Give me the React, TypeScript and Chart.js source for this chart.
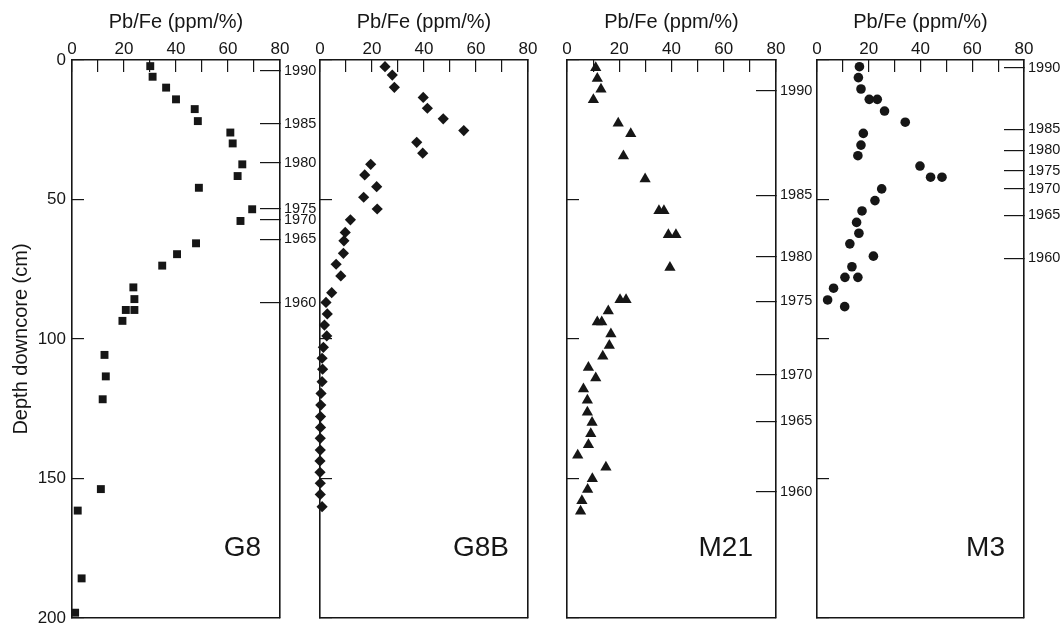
import React, { useEffect, useRef } from "react";
import { Chart, registerables } from "chart.js";

Chart.register(...registerables);

// ---------- data ----------
const X_TITLE = "Pb/Fe (ppm/%)";
const Y_TITLE = "Depth downcore (cm)";
const DATE_YEARS = ["1990", "1985", "1980", "1975", "1970", "1965", "1960"];

const g8Depth = [2.2, 6.0, 9.9, 14.1, 17.6, 21.9, 26.0, 29.9, 37.4, 41.6, 45.8, 53.5, 57.7, 65.7, 69.6, 73.7, 81.5, 85.7, 89.6, 89.6, 93.5, 105.7, 113.4, 121.6, 153.8, 161.5, 185.8, 198.1];
const g8Value = [30.1, 31.0, 36.2, 40.0, 47.2, 48.4, 60.9, 61.8, 65.5, 63.7, 48.8, 69.3, 64.8, 47.7, 40.4, 34.7, 23.6, 24.0, 20.7, 24.0, 19.4, 12.5, 13.0, 11.8, 11.1, 2.2, 3.7, 1.2];
const g8DateDepth = [3.9, 22.9, 36.9, 53.4, 57.3, 64.2, 87.1];

const g8bDepth = [2.4, 5.4, 9.8, 13.4, 17.3, 21.1, 25.3, 29.5, 33.4, 37.4, 41.2, 45.4, 49.2, 53.4, 57.3, 61.8, 64.8, 69.3, 73.2, 77.4, 83.4, 86.9, 91.0, 95.0, 98.9, 103.0, 106.9, 110.8, 115.3, 119.5, 123.7, 127.8, 131.7, 135.6, 139.8, 143.7, 147.8, 151.7, 155.7, 160.1];
const g8bValue = [25.0, 27.8, 28.6, 39.7, 41.3, 47.4, 55.3, 37.2, 39.5, 19.5, 17.2, 21.8, 16.8, 22.0, 11.7, 9.7, 9.2, 9.0, 6.2, 8.0, 4.5, 2.3, 2.8, 1.7, 2.6, 1.3, 0.8, 1.0, 0.8, 0.4, 0.3, 0.2, 0.2, 0.1, 0.1, 0.0, 0.0, 0.1, 0.1, 0.8];

const m21Depth = [2.8, 6.6, 10.5, 14.3, 22.7, 26.5, 34.4, 42.7, 54.1, 54.1, 62.7, 62.7, 74.4, 86.0, 86.0, 90.0, 94.0, 94.0, 98.3, 102.4, 106.3, 110.3, 114.1, 118.0, 122.1, 126.4, 130.0, 134.1, 138.0, 141.8, 146.1, 150.2, 154.1, 158.1, 161.9];
const m21Value = [11.0, 11.6, 13.0, 10.1, 19.6, 24.4, 21.6, 29.9, 35.2, 37.1, 38.8, 41.7, 39.4, 20.3, 22.6, 15.8, 11.6, 13.3, 16.8, 16.2, 13.7, 8.2, 11.0, 6.3, 7.8, 7.8, 9.6, 9.1, 8.2, 4.1, 14.9, 9.7, 7.9, 5.7, 5.2];
const m21DateDepth = [11.0, 48.6, 70.7, 86.6, 112.9, 129.6, 154.9];

const m3Depth = [2.4, 6.3, 10.4, 14.1, 14.1, 18.3, 22.3, 26.3, 30.5, 34.3, 38.0, 42.0, 42.0, 46.2, 50.4, 54.1, 58.2, 62.1, 65.9, 70.3, 74.1, 77.9, 77.9, 81.8, 86.0, 88.4];
const m3Value = [16.4, 16.0, 17.0, 20.2, 23.3, 26.1, 34.1, 17.9, 17.0, 15.8, 39.8, 43.9, 48.3, 25.0, 22.4, 17.4, 15.3, 16.2, 12.7, 21.8, 13.5, 10.8, 15.8, 6.4, 4.1, 10.7];
const m3DateDepth = [2.8, 24.8, 32.3, 39.7, 46.2, 55.6, 71.1];

// ---------- layout / style ----------
const INK = "#161616";
const FONT = "'Liberation Sans', Arial, Helvetica, sans-serif";
const H = 624;
const PLOT_TOP = 60;
const PLOT_BOTTOM = 618;

type Panel = {
  name: string;
  values: number[];
  depths: number[];
  dates: number[] | null;
  style: string;
  radius: number;
  canvasLeft: number;
  canvasWidth: number;
  plotLeft: number;
  plotRight: number;
  showY: boolean;
  inset: number;
};

const PANELS: Panel[] = [
  { name: "G8", values: g8Value, depths: g8Depth, dates: g8DateDepth, style: "rect", radius: 5.6, canvasLeft: 0, canvasWidth: 324, plotLeft: 72, plotRight: 280, showY: true, inset: 19 },
  { name: "G8B", values: g8bValue, depths: g8bDepth, dates: null, style: "rectRot", radius: 5.6, canvasLeft: 314, canvasWidth: 226, plotLeft: 320, plotRight: 528, showY: false, inset: 19 },
  { name: "M21", values: m21Value, depths: m21Depth, dates: m21DateDepth, style: "triangle", radius: 6.5, canvasLeft: 545, canvasWidth: 273, plotLeft: 567, plotRight: 776, showY: false, inset: 23 },
  { name: "M3", values: m3Value, depths: m3Depth, dates: m3DateDepth, style: "circle", radius: 4.8, canvasLeft: 810, canvasWidth: 250, plotLeft: 817, plotRight: 1024, showY: false, inset: 19 },
];

const panelLabelPlugin = {
  id: "panelLabel",
  afterDraw(chart: any, _args: any, opts: any) {
    const { ctx, chartArea } = chart;
    ctx.save();
    ctx.font = `28px ${FONT}`;
    ctx.fillStyle = INK;
    ctx.textAlign = "right";
    ctx.textBaseline = "alphabetic";
    ctx.fillText(opts.text, chartArea.right - opts.inset, chartArea.bottom - 62);
    ctx.restore();
  },
};

function fix(prop: "width" | "height", val: number) {
  return (s: any) => {
    s[prop] = val;
    s.paddingLeft = 0;
    s.paddingRight = 0;
    s.paddingTop = 0;
    s.paddingBottom = 0;
  };
}

function makeChart(canvas: HTMLCanvasElement, p: Panel) {
  const leftW = p.plotLeft - p.canvasLeft;
  const rightW = p.canvasLeft + p.canvasWidth - p.plotRight;
  const border = { color: INK, width: 1.6 };
  const gridBase = { drawOnChartArea: false, color: INK, lineWidth: 1.2 };
  return new Chart(canvas, {
    type: "scatter",
    data: {
      datasets: [
        {
          data: p.depths.map((d, i) => ({ x: p.values[i], y: d })),
          pointStyle: p.style as any,
          pointRadius: p.radius,
          pointBackgroundColor: INK,
          pointBorderColor: INK,
          pointBorderWidth: 0,
          clip: false as any,
          xAxisID: "x",
          yAxisID: "y",
        },
      ],
    },
    options: {
      animation: false,
      responsive: false,
      events: [],
      layout: { padding: 0 },
      plugins: {
        legend: { display: false },
        tooltip: { enabled: false },
        panelLabel: { text: p.name, inset: p.inset },
      } as any,
      scales: {
        x: {
          type: "linear",
          position: "top",
          min: 0,
          max: 80,
          afterFit: fix("height", PLOT_TOP),
          ticks: {
            stepSize: 10,
            autoSkip: false,
            maxRotation: 0,
            padding: 12,
            color: INK,
            font: { family: FONT, size: 17 },
            callback: (v: any) => (Number(v) % 20 === 0 ? String(v) : ""),
          },
          grid: { ...gridBase, drawTicks: true, tickLength: -12 },
          border,
          title: {
            display: true,
            text: X_TITLE,
            color: INK,
            font: { family: FONT, size: 20 },
            padding: { top: 10, bottom: 0 },
          },
        },
        xb: {
          type: "linear",
          position: "bottom",
          min: 0,
          max: 80,
          afterFit: fix("height", H - PLOT_BOTTOM),
          ticks: { display: false },
          grid: { ...gridBase, drawTicks: false },
          border,
        },
        y: {
          type: "linear",
          position: "left",
          reverse: true,
          min: 0,
          max: 200,
          afterFit: fix("width", leftW),
          ticks: {
            display: p.showY,
            stepSize: 50,
            autoSkip: false,
            padding: 18,
            color: INK,
            font: { family: FONT, size: 17 },
          },
          grid: { ...gridBase, drawTicks: true, tickLength: -12 },
          border,
          title: {
            display: p.showY,
            text: Y_TITLE,
            color: INK,
            font: { family: FONT, size: 20 },
            padding: { top: 9, bottom: 0 },
          },
        },
        yr: {
          type: "linear",
          position: "right",
          reverse: true,
          min: 0,
          max: 200,
          afterFit: fix("width", rightW),
          afterBuildTicks: (s: any) => {
            s.ticks = p.dates ? p.dates.map((v) => ({ value: v })) : [];
          },
          ticks: {
            display: !!p.dates,
            autoSkip: false,
            padding: 24,
            color: INK,
            font: { family: FONT, size: 14.5 },
            callback: (_v: any, i: number) => DATE_YEARS[i],
          },
          grid: { ...gridBase, drawTicks: !!p.dates, tickLength: -20 },
          border,
        },
      } as any,
    },
    plugins: [panelLabelPlugin as any],
  });
}

export default function App() {
  const refs = useRef<(HTMLCanvasElement | null)[]>([]);
  useEffect(() => {
    document.body.style.margin = "0";
    const charts = PANELS.map((p, i) => makeChart(refs.current[i] as HTMLCanvasElement, p));
    return () => charts.forEach((c) => c.destroy());
  }, []);
  return (
    <div style={{ position: "relative", width: 1060, height: H, overflow: "hidden", background: "#fff" }}>
      {PANELS.map((p, i) => (
        <canvas
          key={p.name}
          ref={(el) => {
            refs.current[i] = el;
          }}
          width={p.canvasWidth}
          height={H}
          style={{ position: "absolute", left: p.canvasLeft, top: 0, width: p.canvasWidth, height: H }}
        />
      ))}
    </div>
  );
}
